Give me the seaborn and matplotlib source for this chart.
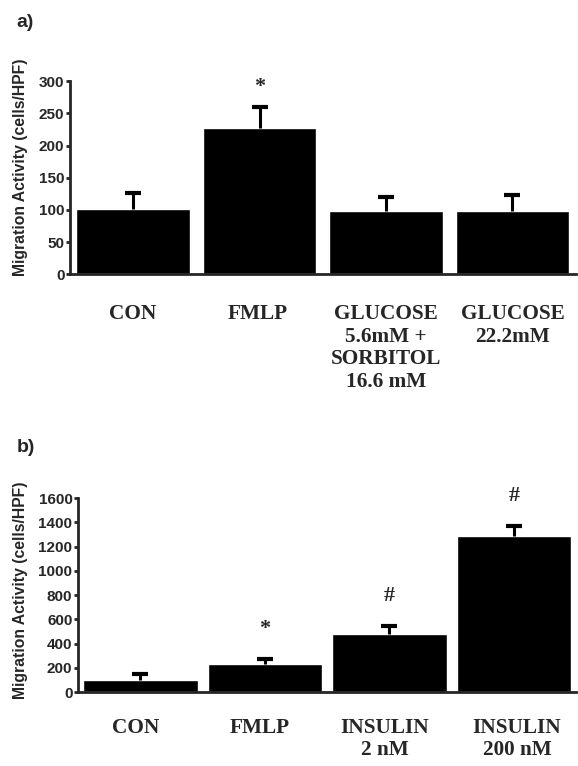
import seaborn as sns
import pandas as pd
import numpy as np
import matplotlib
matplotlib.use('Agg')
import matplotlib.pyplot as plt
from matplotlib.transforms import ScaledTranslation

# panel a data
labels_a = ['CON', 'FMLP', 'GLUCOSE\n5.6mM +\nSORBITOL\n16.6 mM', 'GLUCOSE\n22.2mM']
values_a = [101, 227, 99, 99]
errors_a = [25, 33, 21, 24]
marks_a = ['', '*', '', '']

# panel b data
labels_b = ['CON', 'FMLP', 'INSULIN\n2 nM', 'INSULIN\n200 nM']
values_b = [95, 231, 478, 1289]
errors_b = [50, 40, 66, 80]
marks_b = ['', '*', '#', '#']

sns.set_style('ticks')
plt.rcParams['font.family'] = ['Liberation Sans', 'DejaVu Sans']

fig = plt.figure(figsize=(5.78, 7.66), dpi=100)
ax1 = fig.add_axes([0.121, 0.642, 0.875, 0.252])
ax2 = fig.add_axes([0.135, 0.0966, 0.862, 0.253])


def draw_panel(ax, labels, values, errors, marks, ymax, step, width, mark_off,
               shifts, lab_pad, ylab_xy):
    df = pd.DataFrame({'group': labels, 'value': values})
    sns.barplot(x='group', y='value', data=df, color='black', width=width,
                saturation=1, ax=ax, errorbar=None)
    xs = [p.get_x() + p.get_width() / 2 for p in ax.patches]
    eb = ax.errorbar(xs, values, yerr=[np.zeros(len(errors)), errors], fmt='none',
                     ecolor='black', elinewidth=2.2, capsize=5.5, capthick=3)
    # only the upper cap is shown
    eb[1][0].set_visible(False)
    for x, v, e, m in zip(xs, values, errors, marks):
        if m:
            ax.annotate(m, (x, v + e), xytext=(0, mark_off), textcoords='offset points',
                        ha='center', va='center', fontsize=16, fontweight='bold',
                        family='Liberation Serif')
    ax.set_ylim(0, ymax)
    ax.set_xlim(-0.5, len(labels) - 0.5)
    ax.set_yticks(np.arange(0, ymax + 1, step))
    ax.set_xlabel('')
    ax.set_ylabel('Migration Activity (cells/HPF)', fontsize=11.3, fontweight='bold')
    ax.yaxis.set_label_coords(*ylab_xy)
    for t in ax.get_yticklabels():
        t.set_fontweight('bold')
        t.set_fontsize(11)
    ax.tick_params(axis='y', length=3, width=2, pad=1)
    ax.tick_params(axis='x', length=0, pad=lab_pad)
    for t, s in zip(ax.get_xticklabels(), shifts):
        t.set_family('Liberation Serif')
        t.set_fontweight('bold')
        t.set_fontsize(15.3)
        t.set_verticalalignment('top')
        t.set_linespacing(1.18)
        t.set_transform(t.get_transform() + ScaledTranslation(s / 100, 0, fig.dpi_scale_trans))
    sns.despine(ax=ax)
    ax.spines['left'].set_linewidth(2)
    ax.spines['bottom'].set_linewidth(2)


draw_panel(ax1, labels_a, values_a, errors_a, marks_a, 300, 50, 0.9, 14,
           [0, -2, 0, 0], 21.5, (-0.083, 0.554))
draw_panel(ax2, labels_b, values_b, errors_b, marks_b, 1600, 200, 0.92, 22,
           [-5, -5, -5, 3], 18.5, (-0.100, 0.526))

fig.text(0.029, 0.970, 'a)', fontsize=14, fontweight='bold', va='center')
fig.text(0.029, 0.416, 'b)', fontsize=14, fontweight='bold', va='center')

fig.savefig('out.png', dpi=100)
